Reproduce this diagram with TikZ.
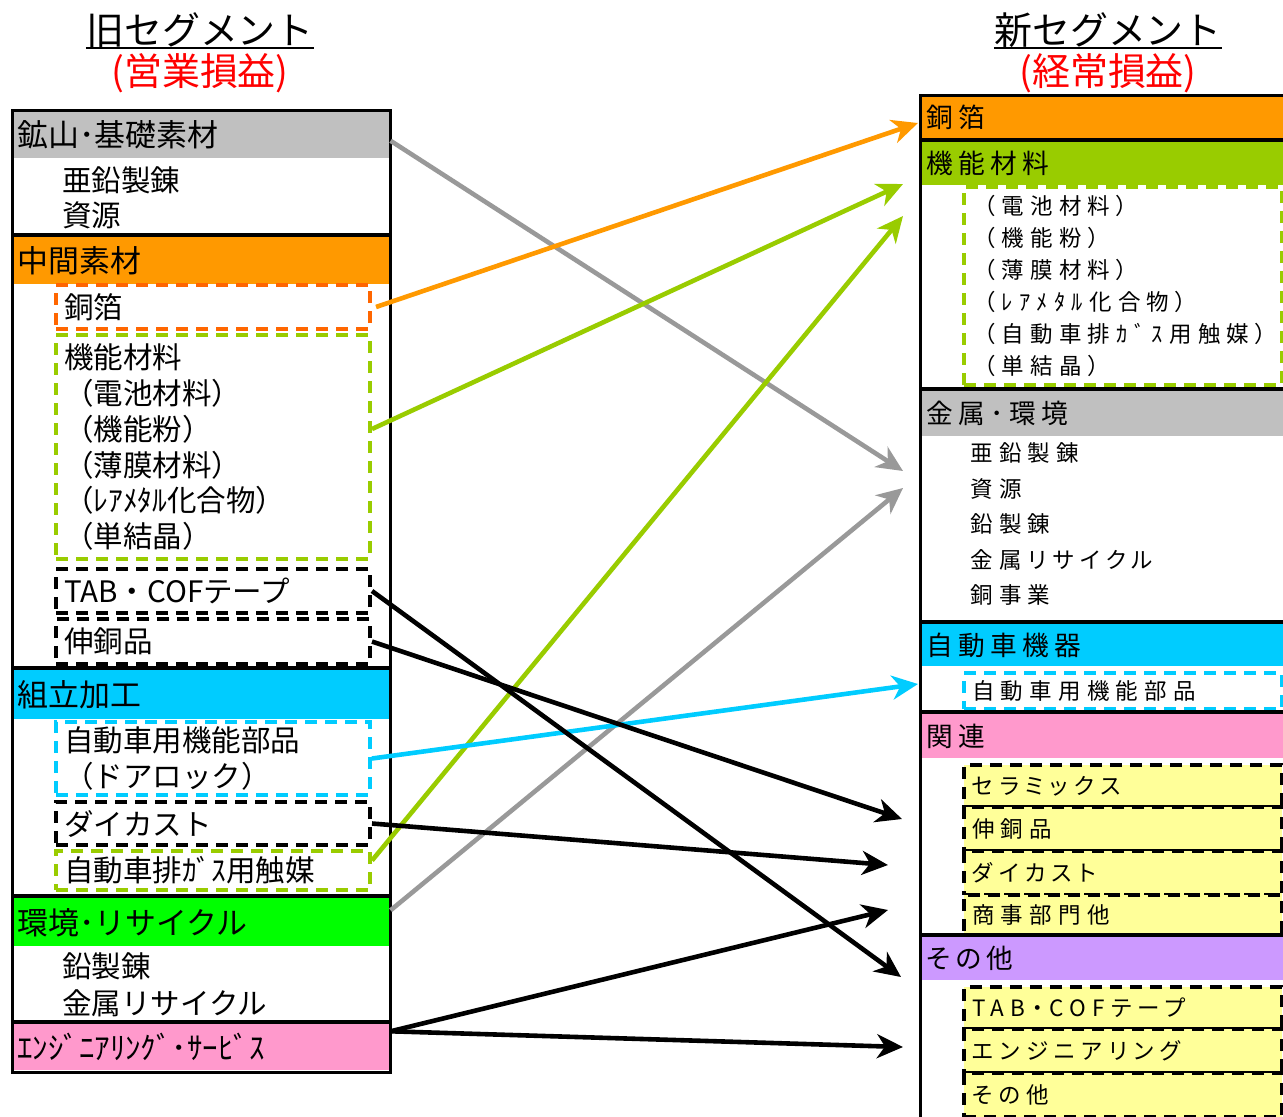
\documentclass[tikz,border=0pt]{standalone}
\usepackage{fontspec}
\setmainfont{Noto Sans CJK JP}
\newfontfamily\droite[LetterSpace=20,RawFeature=+palt]{Noto Sans CJK JP}
\newfontfamily\droiteb[LetterSpace=28,RawFeature=+palt]{Noto Sans CJK JP}
\usetikzlibrary{arrows.meta}
\definecolor{gris}{HTML}{C0C0C0}
\definecolor{grisf}{HTML}{999999}
\definecolor{orangeh}{HTML}{FF9900}
\definecolor{orouge}{HTML}{FF6600}
\definecolor{cyanh}{HTML}{00CCFF}
\definecolor{vertv}{HTML}{00FF00}
\definecolor{vertj}{HTML}{99CC00}
\definecolor{rose}{HTML}{FF99CC}
\definecolor{mauve}{HTML}{CC99FF}
\definecolor{jaune}{HTML}{FFFF99}
\newcommand\ftit{\fontsize{27}{32}\selectfont}
\newcommand\fhdr{\fontsize{22}{26}\selectfont}
\newcommand\fitem{\fontsize{21}{25.6}\selectfont}
\newcommand\fhdrR{\droite\fontsize{19}{23}\selectfont}
\newcommand\fitemR{\droiteb\fontsize{16}{22.7}\selectfont}

\begin{document}
\begin{tikzpicture}[x=0.25mm,y=-0.25mm]
\tikzset{entete/.style={anchor=north west, inner xsep=1.25mm, inner ysep=0pt, text width=92mm, align=left, font=\fhdr},
  entetedr/.style={anchor=north west, inner xsep=1mm, inner ysep=0pt, text width=90.5mm, align=left, font=\fhdrR},
  cadre/.style={anchor=north west, line width=1mm, dash pattern=on 3mm off 2mm, inner xsep=2mm, inner ysep=0pt, text width=74.5mm, align=left, font=\fitem},
  cadredr/.style={anchor=north west, line width=1mm, dash pattern=on 3mm off 2mm, inner xsep=2mm, inner ysep=0pt, text width=75.5mm, align=left, font=\fitemR},
  texte/.style={anchor=west, inner sep=0pt, font=\fitem},
  textedr/.style={anchor=west, inner sep=0pt, font=\fitemR},
  titre/.style={inner sep=0pt, font=\ftit},
  sep/.style={line width=1mm},
  fleche/.style={line width=1.15mm, -{Stealth[length=6.5mm,width=6mm,inset=2mm]}}}
\useasboundingbox (0,0) rectangle (1283,1116);
\clip (0,0) rectangle (1283,1116);

\node[titre] (told) at (200,30) {旧セグメント};
\node[titre, text=red] (tolda) at (200,73) {(営業損益)};
\draw[line width=0.5mm] (told.south west) -- (told.south east);
\node[titre] (tnew) at (1108,30) {新セグメント};
\node[titre, text=red] (tnewa) at (1108,73) {(経常損益)};
\draw[line width=0.5mm] (tnew.south west) -- (tnew.south east);

% ancienne segmentation
\node[entete, fill=gris, minimum height=11.75mm] (oldA) at (12,111) {鉱山･基礎素材};
\node[texte] (zincA) at (62,180) {亜鉛製錬};
\node[texte] (resA) at (62,215) {資源};
\node[entete, fill=orangeh, minimum height=11.75mm] (oldB) at (12,237) {中間素材};
\node[cadre, draw=orouge, minimum height=11mm] (oldCu) at (54,283) {銅箔};
\node[cadre, draw=vertj, minimum height=56mm] (oldFn) at (54,333) {機能材料\\（電池材料）\\（機能粉）\\（薄膜材料）\\（ﾚｱﾒﾀﾙ化合物）\\（単結晶）};
\node[cadre, draw=black, minimum height=11mm] (oldTab) at (54,567) {TAB・COFテープ};
\node[cadre, draw=black, minimum height=11.25mm] (oldShin) at (54,617) {伸銅品};
\node[entete, fill=cyanh, minimum height=12.25mm] (oldC) at (12,670) {組立加工};
\node[cadre, draw=cyanh, minimum height=18.25mm] (oldDoor) at (54,720) {自動車用機能部品\\（ドアロック）};
\node[cadre, draw=black, minimum height=10.75mm] (oldDie) at (54,800) {ダイカスト};
\node[cadre, draw=vertj, minimum height=9.75mm] (oldCat) at (54,849) {自動車排ｶﾞｽ用触媒};
\node[entete, fill=vertv, minimum height=12mm] (oldD) at (12,898) {環境･リサイクル};
\node[texte] (leadD) at (62,966) {鉛製錬};
\node[texte] (recD) at (62,1003) {金属リサイクル};
\node[entete, fill=rose, minimum height=11.5mm] (oldE) at (12,1024) {ｴﾝｼﾞﾆｱﾘﾝｸﾞ･ｻｰﾋﾞｽ};
\draw[line width=0.75mm] (12,110) rectangle (390,1072);
\draw[sep] (12,235) -- (390,235);
\draw[sep] (12,668) -- (390,668);
\draw[sep] (12,896) -- (390,896);
\draw[sep] (12,1022) -- (390,1022);

% nouvelle segmentation
\node[entetedr, fill=orangeh, minimum height=10.5mm] (newA) at (922,96) {銅箔};
\node[entetedr, fill=vertj, minimum height=10.75mm] (newB) at (922,142) {機能材料};
\node[cadredr, draw=vertj, minimum height=49.5mm, inner xsep=5mm, text width=69.5mm] (newFn) at (962,185) {（電池材料）\\（機能粉）\\（薄膜材料）\\（ﾚｱﾒﾀﾙ化合物）\\（自動車排ｶﾞｽ用触媒）\\（単結晶）};
\node[entetedr, fill=gris, minimum height=11.25mm] (newC) at (922,391) {金属･環境};
\node[textedr] (zincC) at (970,453) {亜鉛製錬};
\node[textedr] (resC) at (970,489) {資源};
\node[textedr] (leadC) at (970,524) {鉛製錬};
\node[textedr] (recC) at (970,560) {金属リサイクル};
\node[textedr] (cuC) at (970,595) {銅事業};
\node[entetedr, fill=cyanh, minimum height=10.5mm] (newD) at (922,624) {自動車機器};
\node[cadredr, draw=cyanh, minimum height=9mm] (newDoor) at (962,671) {自動車用機能部品};
\node[entetedr, fill=rose, minimum height=11mm] (newE) at (922,714) {関連};
\node[cadredr, draw=black, fill=jaune, minimum height=10.5mm] (newCer) at (962,763) {セラミックス};
\node[cadredr, draw=black, fill=jaune, minimum height=11mm] (newShin) at (962,805) {伸銅品};
\node[cadredr, draw=black, fill=jaune, minimum height=11mm] (newDie) at (962,849) {ダイカスト};
\node[cadredr, draw=black, fill=jaune, minimum height=10mm] (newSho) at (962,893) {商事部門他};
\node[entetedr, fill=mauve, minimum height=10.75mm] (newF) at (922,937) {その他};
\node[cadredr, draw=black, fill=jaune, minimum height=10.5mm] (newTab) at (962,985) {TAB・COFテープ};
\node[cadredr, draw=black, fill=jaune, minimum height=11mm] (newEng) at (962,1027) {エンジニアリング};
\node[cadredr, draw=black, fill=jaune, minimum height=11mm] (newEtc) at (962,1071) {その他};
\draw[line width=0.75mm] (1300,95) -- (920,95) -- (920,1130);
\draw[sep] (920,140) -- (1300,140);
\draw[sep] (920,389) -- (1300,389);
\draw[sep] (920,622) -- (1300,622);
\draw[sep] (920,712) -- (1300,712);
\draw[sep] (920,935) -- (1300,935);

% fleches
\coordinate (pCu) at (918,123);
\coordinate (pFn1) at (903,184);
\coordinate (pFn2) at (903,216);
\coordinate (pZn) at (903,471);
\coordinate (pEnv) at (903,488);
\coordinate (pDoor) at (918,684);
\coordinate (pShin) at (902,819);
\coordinate (pDie) at (888,865);
\coordinate (pEng1) at (888,910);
\coordinate (pTab) at (901,977);
\coordinate (pEng2) at (903,1047);
\draw[fleche, grisf] ([yshift=-1.5mm]oldA.east) -- (pZn);
\draw[fleche, orangeh] ([xshift=1mm]oldCu.east) -- (pCu);
\draw[fleche, vertj] ([yshift=4.5mm]oldFn.east) -- (pFn1);
\draw[fleche, vertj] ([yshift=2.5mm]oldCat.east) -- (pFn2);
\draw[fleche, grisf] ([yshift=3mm]oldD.east) -- (pEnv);
\draw[fleche, cyanh] (oldDoor.east) -- (pDoor);
\draw[fleche] (oldTab.east) -- (pTab);
\draw[fleche] (oldShin.east) -- (pShin);
\draw[fleche] (oldDie.east) -- (pDie);
\draw[fleche] ([yshift=4mm]oldE.east) -- (pEng1);
\draw[fleche] ([yshift=4mm]oldE.east) -- (pEng2);
\end{tikzpicture}
\end{document}
